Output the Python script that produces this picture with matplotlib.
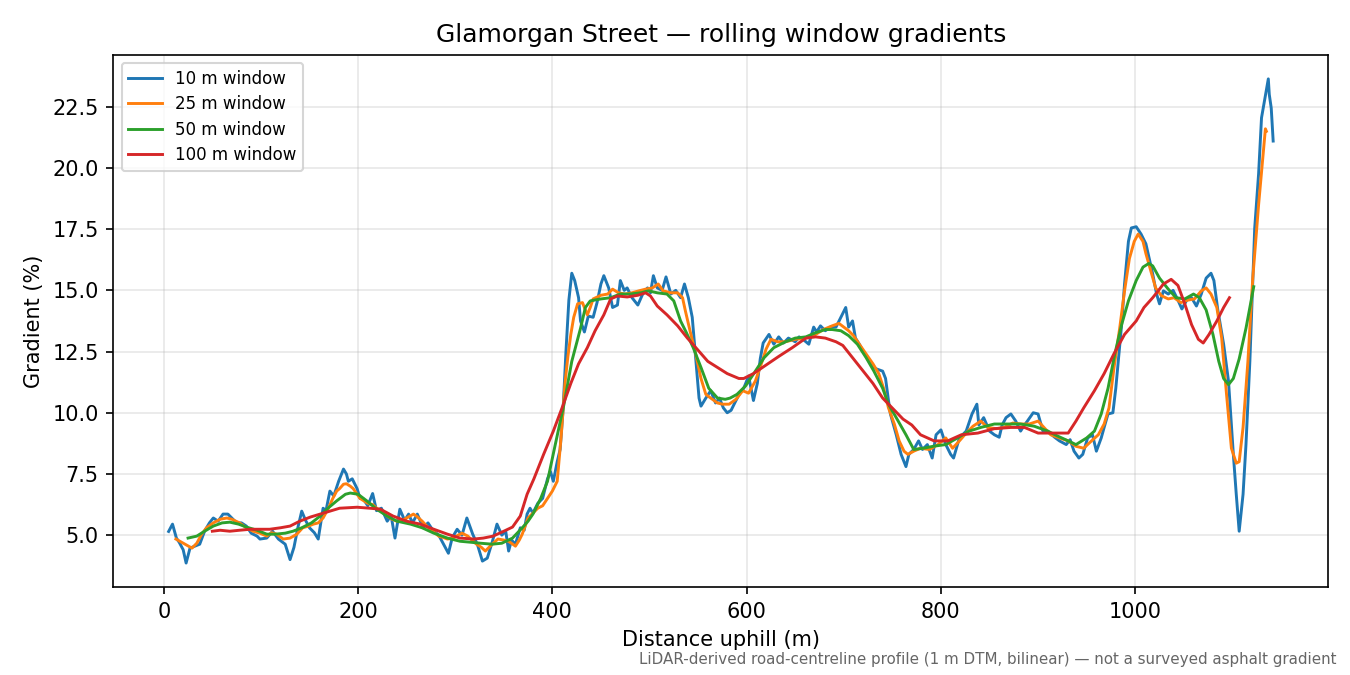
import matplotlib
matplotlib.use("Agg")
import matplotlib.pyplot as plt

# 10 m window
d10 = [5, 9, 13, 16, 20, 23, 27, 32, 37, 42, 47, 51, 56, 61, 66, 70, 75, 80, 85, 90, 96, 99,
       106, 112, 118, 125, 130, 134, 138, 142, 146, 150, 155, 159, 164, 167, 171, 175, 180, 185,
       188, 190, 194, 199, 202, 205, 210, 215, 219, 224, 230, 234, 238, 243, 248, 252, 256, 261,
       267, 272, 277, 283, 288, 293, 297, 302, 307, 312, 318, 323, 328, 333, 338, 343, 348, 352,
       355, 358, 362, 367, 371, 374, 377, 380, 385, 390, 395, 398, 401, 405, 408, 411, 414, 417,
       420, 423, 427, 429, 433, 437, 442, 446, 450, 453, 458, 462, 467, 470, 474, 477, 482, 488,
       493, 498, 501, 504, 508, 513, 517, 522, 527, 532, 536, 540, 544, 547, 551, 553, 558, 563,
       568, 572, 576, 580, 584, 589, 593, 597, 602, 607, 611, 614, 617, 623, 628, 633, 638, 643,
       650, 654, 658, 664, 669, 672, 676, 681, 686, 692, 697, 702, 705, 709, 712, 716, 720, 726,
       733, 740, 743, 746, 748, 754, 759, 764, 767, 772, 777, 781, 786, 791, 795, 800, 805, 810,
       813, 819, 826, 832, 837, 839, 844, 850, 855, 860, 863, 867, 872, 877, 882, 886, 889, 895,
       900, 905, 910, 917, 922, 929, 933, 937, 942, 946, 951, 956, 960, 965, 968, 972, 977, 980,
       983, 986, 989, 993, 996, 1001, 1006, 1011, 1015, 1018, 1022, 1025, 1029, 1034, 1039, 1044,
       1048, 1053, 1058, 1063, 1068, 1073, 1078, 1081, 1085, 1091, 1096, 1101, 1104, 1107, 1111,
       1114, 1118, 1123, 1127, 1130, 1133, 1137, 1138, 1140, 1142]
g10 = [5.15, 5.45, 4.88, 4.7, 4.4, 3.86, 4.47, 4.55, 4.63, 5.16, 5.5, 5.7, 5.57, 5.86, 5.86, 5.7,
       5.5, 5.5, 5.37, 5.08, 4.96, 4.84,
       4.88, 5.16, 4.84, 4.63, 4.0, 4.5, 5.3, 5.98, 5.6, 5.3, 5.1, 4.84, 6.1, 6.0, 6.8, 6.6, 7.2, 7.7,
       7.5, 7.2, 7.3, 6.9, 6.5, 6.5, 6.2, 6.7, 6.0, 6.1, 5.57, 5.8, 4.88, 6.06, 5.6, 5.86, 5.5, 5.86,
       5.3, 5.5, 5.2, 5.0, 4.63, 4.26, 4.9, 5.24, 5.0, 5.7, 5.04, 4.6, 3.94, 4.06, 4.7, 5.45, 5.0, 5.16,
       4.35, 4.8, 4.63, 5.3, 5.2, 5.86, 6.1, 5.9, 6.3, 6.5, 7.3, 7.6, 7.2, 8.0, 8.5, 10.1, 12.5, 14.6,
       15.7, 15.4, 14.7, 13.75, 13.3, 13.95, 13.9, 14.5, 15.26, 15.6, 15.1, 14.3, 14.4, 15.4, 15.0, 15.1, 14.7, 14.4,
       14.85, 15.1, 14.9, 15.6, 15.1, 15.0, 15.55, 14.85, 15.0, 14.7, 15.26, 14.7, 13.9, 12.5, 10.6, 10.27, 10.6, 10.9,
       10.4, 10.6, 10.2, 10.0, 10.1, 10.5, 10.8, 11.0, 11.5, 10.5, 11.2, 12.2, 12.85, 13.2, 12.8, 13.1, 12.85, 13.05,
       12.9, 13.1, 13.0, 12.8, 13.5, 13.3, 13.55, 13.35, 13.5, 13.5, 13.9, 14.3, 13.5, 13.75, 13.05, 12.8, 12.5, 12.1,
       11.8, 11.7, 11.4, 10.5, 9.95, 9.1, 8.3, 7.8, 8.3, 8.5, 8.85, 8.5, 8.7, 8.15, 9.1, 9.3, 8.7, 8.3,
       8.15, 8.97, 9.25, 9.95, 10.35, 9.5, 9.8, 9.25, 9.1, 9.0, 9.5, 9.8, 9.95, 9.66, 9.25, 9.5, 9.66, 10.0,
       9.95, 9.25, 9.25, 9.0, 8.85, 8.7, 8.9, 8.43, 8.15, 8.3, 8.97, 9.1, 8.43, 8.97, 9.4, 9.95, 10.0, 11.0,
       12.3, 13.6, 15.26, 17.0, 17.55, 17.6, 17.3, 16.9, 16.2, 15.67, 14.85, 14.45, 14.98, 14.85, 15.0, 14.6,
       14.24, 14.6, 14.7, 14.36, 14.85, 15.5, 15.7, 15.4, 14.2, 12.8, 11.3, 8.3, 6.67, 5.16, 6.67,
       8.7, 12.1, 17.55, 19.76, 22.05, 22.74, 23.64, 23.0, 22.45, 21.1]

# 25 m window
d25 = [12.5, 20, 29, 34, 39, 44, 51, 58, 65, 70, 78, 85, 92, 99, 106, 111, 116, 123, 130, 137,
       143, 149, 154, 159, 164, 169, 174, 178, 181, 185, 188, 192, 195, 202, 206, 210, 215, 219,
       224, 230, 235, 240, 245, 250, 257, 261, 266, 270, 274, 279, 283, 288, 292, 298, 303, 307,
       313, 317, 322, 327, 331, 336, 340, 344, 350, 355, 362, 366, 369, 375, 380, 385, 390, 395,
       400, 405, 409, 413, 416, 419, 422, 426, 431, 436, 439, 442, 450, 457, 462, 468, 475, 482,
       489, 496, 503, 509, 514, 522, 529, 534, 537, 542, 547, 553, 558, 563, 570, 575, 582, 589,
       596, 602, 609, 616, 620, 625, 632, 640, 650, 661, 671, 679, 688, 695, 700, 705, 710, 716,
       723, 730, 736, 741, 746, 752, 757, 762, 766, 772, 779, 788, 797, 805, 812, 819, 826, 833,
       841, 848, 857, 865, 874, 882, 891, 900, 906, 913, 922, 931, 939, 947, 955, 962, 968, 973,
       978, 984, 989, 994, 999, 1003, 1008, 1011, 1016, 1021, 1027, 1034, 1040, 1047, 1054, 1061,
       1068, 1073, 1078, 1084, 1089, 1094, 1099, 1104, 1107, 1111, 1116, 1121, 1127, 1131, 1134, 1135]
g25 = [4.84, 4.67, 4.47, 4.67, 5.04, 5.3, 5.5, 5.65, 5.7, 5.65, 5.5, 5.3, 5.16, 5.08, 4.96, 5.1, 5.04, 4.84, 4.88, 5.04,
       5.3, 5.37, 5.45, 5.5, 5.7, 6.06, 6.5, 6.8, 6.9, 7.08, 7.1, 7.0, 6.9, 6.5, 6.4, 6.3, 6.25, 6.1,
       6.0, 5.78, 5.65, 5.57, 5.6, 5.7, 5.86, 5.75, 5.57, 5.4, 5.24, 5.1, 4.96, 4.9, 4.84, 4.88, 5.0, 5.08,
       4.96, 4.8, 4.63, 4.5, 4.35, 4.55, 4.7, 4.84, 4.8, 4.75, 4.55, 4.8, 5.04, 5.7, 5.9, 6.1, 6.2, 6.5,
       6.8, 7.2, 9.0, 11.2, 12.3, 13.2, 13.9, 14.45, 14.5, 14.0, 14.3, 14.65, 14.8, 14.85, 15.05, 14.9, 14.85, 14.9,
       14.98, 15.05, 15.1, 15.26, 14.98, 14.9, 14.9, 14.7, 14.15, 13.3, 12.5, 11.4, 10.75, 10.6, 10.4, 10.35, 10.35, 10.55,
       10.9, 10.8, 11.3, 12.1, 12.6, 13.0, 12.9, 12.9, 13.0, 13.05, 13.2, 13.4, 13.55, 13.65, 13.5, 13.35, 13.15, 12.8,
       12.4, 12.0, 11.6, 11.0, 10.2, 9.54, 8.85, 8.43, 8.3, 8.43, 8.55, 8.5, 8.7, 8.97, 8.55, 8.85, 9.17, 9.45,
       9.66, 9.4, 9.35, 9.4, 9.58, 9.54, 9.54, 9.66, 9.4, 9.1, 8.97, 8.85, 8.63, 8.55, 8.85, 9.1, 9.54, 10.2,
       11.8, 13.45, 14.98, 16.3, 17.0, 17.3, 17.0, 16.5, 15.8, 15.1, 14.78, 14.65, 14.7, 14.5, 14.6, 14.65,
       14.98, 15.1, 14.85, 14.3, 13.05, 10.75, 8.55, 7.94, 8.0, 9.4, 12.1, 15.5, 18.5, 20.3, 21.6, 21.5]

# 50 m window
d50 = [25, 34, 42, 51, 60, 68, 77, 85, 96, 106, 115, 125, 133, 142, 152, 161, 169, 178, 187, 192,
       200, 209, 219, 230, 240, 254, 266, 278, 292, 305, 316, 326, 338, 348, 359, 369, 375, 380,
       388, 395, 403, 412, 420, 429, 434, 439, 450, 460, 470, 480, 491, 499, 508, 518, 525, 532,
       538, 545, 553, 561, 570, 578, 583, 590, 599, 609, 618, 628, 640, 650, 661, 671, 681, 688,
       697, 705, 714, 723, 731, 740, 746, 756, 764, 772, 782, 792, 805, 817, 829, 841, 855, 869,
       882, 896, 910, 920, 931, 939, 950, 958, 965, 972, 979, 986, 993, 1001, 1008, 1014, 1018,
       1025, 1034, 1042, 1051, 1060, 1066, 1073, 1080, 1086, 1091, 1096, 1101, 1107, 1114, 1122]
g50 = [4.88, 4.96, 5.16, 5.37, 5.5, 5.53, 5.45, 5.33, 5.2, 5.04, 5.04, 5.08, 5.16, 5.3, 5.5, 5.78, 6.1, 6.4, 6.67, 6.72,
       6.67, 6.4, 6.06, 5.78, 5.57, 5.45, 5.3, 5.08, 4.88, 4.75, 4.71, 4.67, 4.63, 4.67, 4.88, 5.3, 5.57, 5.86,
       6.5, 7.2, 8.7, 10.35, 12.1, 13.45, 14.3, 14.57, 14.65, 14.7, 14.85, 14.85, 14.9, 14.98, 14.9, 14.85, 14.57, 13.75,
       13.27, 12.66, 11.85, 11.0, 10.6, 10.55, 10.6, 10.75, 11.1, 11.7, 12.25, 12.66, 12.9, 13.05, 13.1, 13.27, 13.4, 13.4,
       13.35, 13.15, 12.8, 12.25, 11.7, 11.0, 10.35, 9.66, 9.1, 8.5, 8.55, 8.63, 8.7, 8.97, 9.25, 9.4, 9.54, 9.54,
       9.54, 9.45, 9.25, 9.05, 8.85, 8.7, 8.97, 9.25, 9.95, 11.0, 12.4, 13.6, 14.57, 15.4, 15.95, 16.1, 16.0,
       15.5, 15.05, 14.7, 14.65, 14.85, 14.7, 14.2, 13.2, 12.1, 11.4, 11.15, 11.4, 12.2, 13.45, 15.15]

# 100 m window
d100 = [50, 58, 68, 78, 89, 99, 109, 120, 130, 140, 151, 161, 171, 181, 199, 212, 223, 236, 250, 264,
        278, 292, 305, 319, 329, 339, 350, 359, 367, 374, 381, 391, 401, 410, 419, 427, 436, 444,
        453, 460, 467, 477, 488, 496, 501, 508, 518, 529, 539, 549, 560, 570, 580, 592, 597, 607,
        620, 633, 647, 661, 671, 681, 692, 699, 709, 720, 730, 740, 751, 761, 770, 779, 793, 807,
        821, 838, 855, 872, 886, 900, 917, 931, 939, 947, 958, 968, 978, 989, 1001, 1009, 1018,
        1024, 1029, 1037, 1044, 1051, 1058, 1065, 1070, 1076, 1084, 1091, 1097]
g100 = [5.16, 5.2, 5.16, 5.2, 5.24, 5.24, 5.24, 5.3, 5.37, 5.57, 5.74, 5.86, 5.98, 6.1, 6.14, 6.1, 6.06, 5.78, 5.57, 5.45,
        5.24, 5.04, 4.88, 4.84, 4.88, 4.96, 5.16, 5.33, 5.78, 6.67, 7.3, 8.3, 9.25, 10.2, 11.2, 12.0, 12.66, 13.35,
        14.0, 14.65, 14.77, 14.73, 14.8, 14.9, 14.77, 14.36, 14.0, 13.55, 13.05, 12.6, 12.1, 11.85, 11.6, 11.4, 11.4, 11.6,
        11.95, 12.3, 12.66, 13.05, 13.1, 13.05, 12.9, 12.75, 12.25, 11.7, 11.2, 10.6, 10.15, 9.74, 9.5, 9.1, 8.85, 8.85,
        9.1, 9.17, 9.35, 9.4, 9.4, 9.17, 9.17, 9.17, 9.66, 10.2, 10.9, 11.6, 12.4, 13.2, 13.75, 14.3, 14.7,
        15.0, 15.26, 15.45, 15.2, 14.45, 13.6, 13.0, 12.85, 13.2, 13.75, 14.3, 14.7]

series = [(d10, g10, "10 m window"), (d25, g25, "25 m window"),
          (d50, g50, "50 m window"), (d100, g100, "100 m window")]

fig, ax = plt.subplots(figsize=(9, 4.5), dpi=150)
fig.subplots_adjust(left=0.084, right=0.984, top=0.919, bottom=0.130)
for d, g, lab in series:
    ax.plot(d, g, label=lab, linewidth=1.4)
ax.set_title("Glamorgan Street — rolling window gradients")
ax.set_xlabel("Distance uphill (m)")
ax.set_ylabel("Gradient (%)")
ax.grid(True, alpha=0.3)
ax.legend(loc="upper left", fontsize=8, labelspacing=0.45)
fig.text(0.99, 0.012, "LiDAR-derived road-centreline profile (1 m DTM, bilinear) — not a surveyed asphalt gradient",
         ha="right", va="bottom", fontsize=7.25, color="#666666")
fig.savefig("out.png", dpi=150)
